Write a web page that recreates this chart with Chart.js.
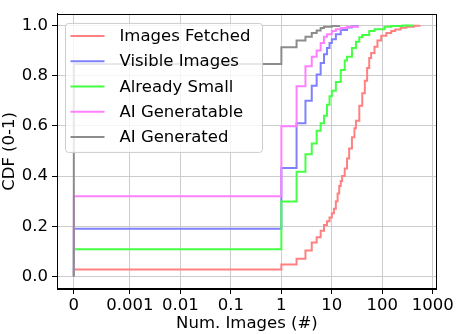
<!DOCTYPE html>
<html>
<head>
<meta charset="utf-8">
<script src="https://cdn.jsdelivr.net/npm/chart.js@4.4.1/dist/chart.umd.min.js"></script>
<style>
  html, body { margin: 0; padding: 0; background: #fff; }
  #wrap { width: 456px; height: 334px; }
</style>
</head>
<body>
<div id="wrap"><canvas id="cdf"></canvas></div>
<script>
// --- values (count of images -> CDF) ---
const seriesLabels = ['Images Fetched', 'Visible Images', 'Already Small', 'AI Generatable', 'AI Generated'];
const seriesColors = ['#ff8080', '#8080ff', '#44ff44', '#ff80ff', '#8c8c8c'];

const fetchedN   = [0, 0, 1, 2, 3, 4, 5, 6, 7, 8, 9, 10, 11, 12, 13, 14, 15, 16, 18, 20, 22, 25, 28, 30, 35, 40, 45, 50, 55, 60, 70, 80, 95, 120, 150, 180, 230, 300, 420, 550];
const fetchedCdf = [0, 0.028, 0.048, 0.071, 0.103, 0.135, 0.156, 0.182, 0.205, 0.22, 0.235, 0.252, 0.27, 0.30, 0.33, 0.36, 0.38, 0.40, 0.43, 0.47, 0.51, 0.555, 0.59, 0.62, 0.68, 0.73, 0.78, 0.83, 0.87, 0.89, 0.915, 0.94, 0.959, 0.97, 0.978, 0.984, 0.991, 0.995, 0.999, 1.0];

const visibleN   = [0, 0, 1, 2, 3, 4, 5, 6, 7, 8, 9, 10, 12, 15, 20, 25, 33];
const visibleCdf = [0, 0.19, 0.432, 0.61, 0.70, 0.76, 0.805, 0.85, 0.885, 0.91, 0.93, 0.945, 0.965, 0.982, 0.992, 0.997, 1.0];

const smallN   = [0, 0, 1, 2, 3, 4, 5, 6, 7, 8, 9, 10, 12, 15, 18, 20, 25, 30, 35, 40, 55, 70, 110, 150, 250, 420];
const smallCdf = [0, 0.108, 0.299, 0.417, 0.487, 0.53, 0.58, 0.61, 0.64, 0.684, 0.718, 0.74, 0.775, 0.822, 0.86, 0.875, 0.91, 0.935, 0.953, 0.962, 0.978, 0.985, 0.995, 0.998, 1.0, 1.0];

const genableN   = [0, 0, 1, 2, 3, 4, 5, 6, 7, 8, 10, 12, 15, 20, 33];
const genableCdf = [0, 0.32, 0.598, 0.758, 0.837, 0.875, 0.90, 0.93, 0.955, 0.965, 0.978, 0.985, 0.99, 0.995, 1.0];

const generatedN   = [0, 0, 1, 2, 3, 4, 5, 6, 7, 10, 14];
const generatedCdf = [0, 0.846, 0.913, 0.94, 0.955, 0.97, 0.98, 0.99, 0.995, 0.998, 1.0];

const xTickValues = [0, 0.001, 0.01, 0.1, 1, 10, 100, 1000];
const xTickLabels = ['0', '0.001', '0.01', '0.1', '1', '10', '100', '1000'];
const yTickValues = [0, 0.2, 0.4, 0.6, 0.8, 1.0];

const FONT = 'DejaVu Sans';
const FS = 16.5;

// symlog transform (linthresh 0.001, linscale 1, base 10) like matplotlib
const LT = 0.001, LS = 1 / (1 - 1 / 10);
function symlog(v) {
  const a = Math.abs(v);
  const t = a <= LT ? (a / LT) * LS : LS + Math.log10(a / LT);
  return v < 0 ? -t : t;
}
function symexp(t) {
  const a = Math.abs(t);
  const v = a <= LS ? (a / LS) * LT : LT * Math.pow(10, a - LS);
  return t < 0 ? -v : v;
}

class SymlogScale extends Chart.LinearScale {
  buildTicks() {
    return xTickValues.map(v => ({ value: v }));
  }
  getPixelForValue(v) {
    const a = symlog(this.min), b = symlog(this.max);
    return this.getPixelForDecimal((symlog(v) - a) / (b - a));
  }
  getValueForPixel(p) {
    const a = symlog(this.min), b = symlog(this.max);
    return symexp(a + this.getDecimalForPixel(p) * (b - a));
  }
}
SymlogScale.id = 'symlog';
SymlogScale.defaults = {};
Chart.register(SymlogScale);

function pts(xs, ys) { return xs.map((x, i) => ({ x: x, y: ys[i] })); }

const allSeries = [
  pts(fetchedN, fetchedCdf),
  pts(visibleN, visibleCdf),
  pts(smallN, smallCdf),
  pts(genableN, genableCdf),
  pts(generatedN, generatedCdf)
];

// frame + matplotlib-like legend inside the axes
const boxLegend = {
  id: 'boxLegend',
  afterDatasetsDraw(chart) {
    const ctx = chart.ctx, a = chart.chartArea;
    ctx.save();
    ctx.strokeStyle = '#000';
    ctx.lineWidth = 1;
    ctx.strokeRect(Math.round(a.left) + 0.5, Math.round(a.top) + 0.5,
      Math.round(a.right - a.left) - 1, Math.round(a.bottom - a.top) - 1);

    const bx = a.left + 8.5, by = a.top + 9.5, bw = 197, bh = 129;
    ctx.beginPath();
    ctx.roundRect(bx, by, bw, bh, 3);
    ctx.fillStyle = 'rgba(255,255,255,0.8)';
    ctx.fill();
    ctx.strokeStyle = '#cccccc';
    ctx.stroke();

    ctx.font = FS + 'px "' + FONT + '"';
    ctx.textBaseline = 'middle';
    ctx.textAlign = 'left';
    seriesLabels.forEach((lab, i) => {
      const y = by + 12.5 + i * 25.3;
      ctx.strokeStyle = seriesColors[i];
      ctx.lineWidth = 2;
      ctx.beginPath();
      ctx.moveTo(bx + 5, y);
      ctx.lineTo(bx + 39, y);
      ctx.stroke();
      ctx.fillStyle = '#000';
      ctx.fillText(lab, bx + 54, y + 1);
    });
    ctx.restore();
  }
};

new Chart(document.getElementById('cdf'), {
  type: 'line',
  data: {
    datasets: allSeries.map((d, i) => ({
      label: seriesLabels[i],
      data: d,
      borderColor: seriesColors[i],
      backgroundColor: seriesColors[i],
      borderWidth: 2,
      pointRadius: 0,
      stepped: 'before',
      fill: false,
      order: seriesLabels.length - i
    }))
  },
  options: {
    responsive: true,
    maintainAspectRatio: false,
    animation: false,
    events: [],
    layout: { padding: { top: 2, right: 18, left: 0, bottom: 0 } },
    plugins: { legend: { display: false }, tooltip: { enabled: false } },
    scales: {
      x: {
        type: 'symlog',
        min: -0.0003,
        max: 1200,
        afterFit: s => { s.height = 45; },
        grid: { color: '#cccccc', lineWidth: 1, tickColor: '#000', tickLength: 5, tickWidth: 1 },
        border: { display: true, color: '#000', width: 1 },
        ticks: {
          autoSkip: false, maxRotation: 0, padding: 2, color: '#000',
          font: { family: FONT, size: FS },
          callback: (v, i) => xTickLabels[i]
        },
        title: { display: true, text: 'Num. Images (#)', color: '#000', padding: 0, font: { family: FONT, size: FS } }
      },
      y: {
        type: 'linear',
        min: -0.05,
        max: 1.046,
        afterFit: s => { s.width = 57; },
        afterBuildTicks: s => { s.ticks = yTickValues.map(v => ({ value: v })); },
        grid: { color: '#cccccc', lineWidth: 1, tickColor: '#000', tickLength: 5, tickWidth: 1 },
        border: { display: true, color: '#000', width: 1 },
        ticks: {
          padding: 4, color: '#000',
          font: { family: FONT, size: FS },
          callback: v => v.toFixed(1)
        },
        title: { display: true, text: 'CDF (0-1)', color: '#000', padding: 0, font: { family: FONT, size: FS } }
      }
    }
  },
  plugins: [boxLegend]
});
</script>
</body>
</html>
